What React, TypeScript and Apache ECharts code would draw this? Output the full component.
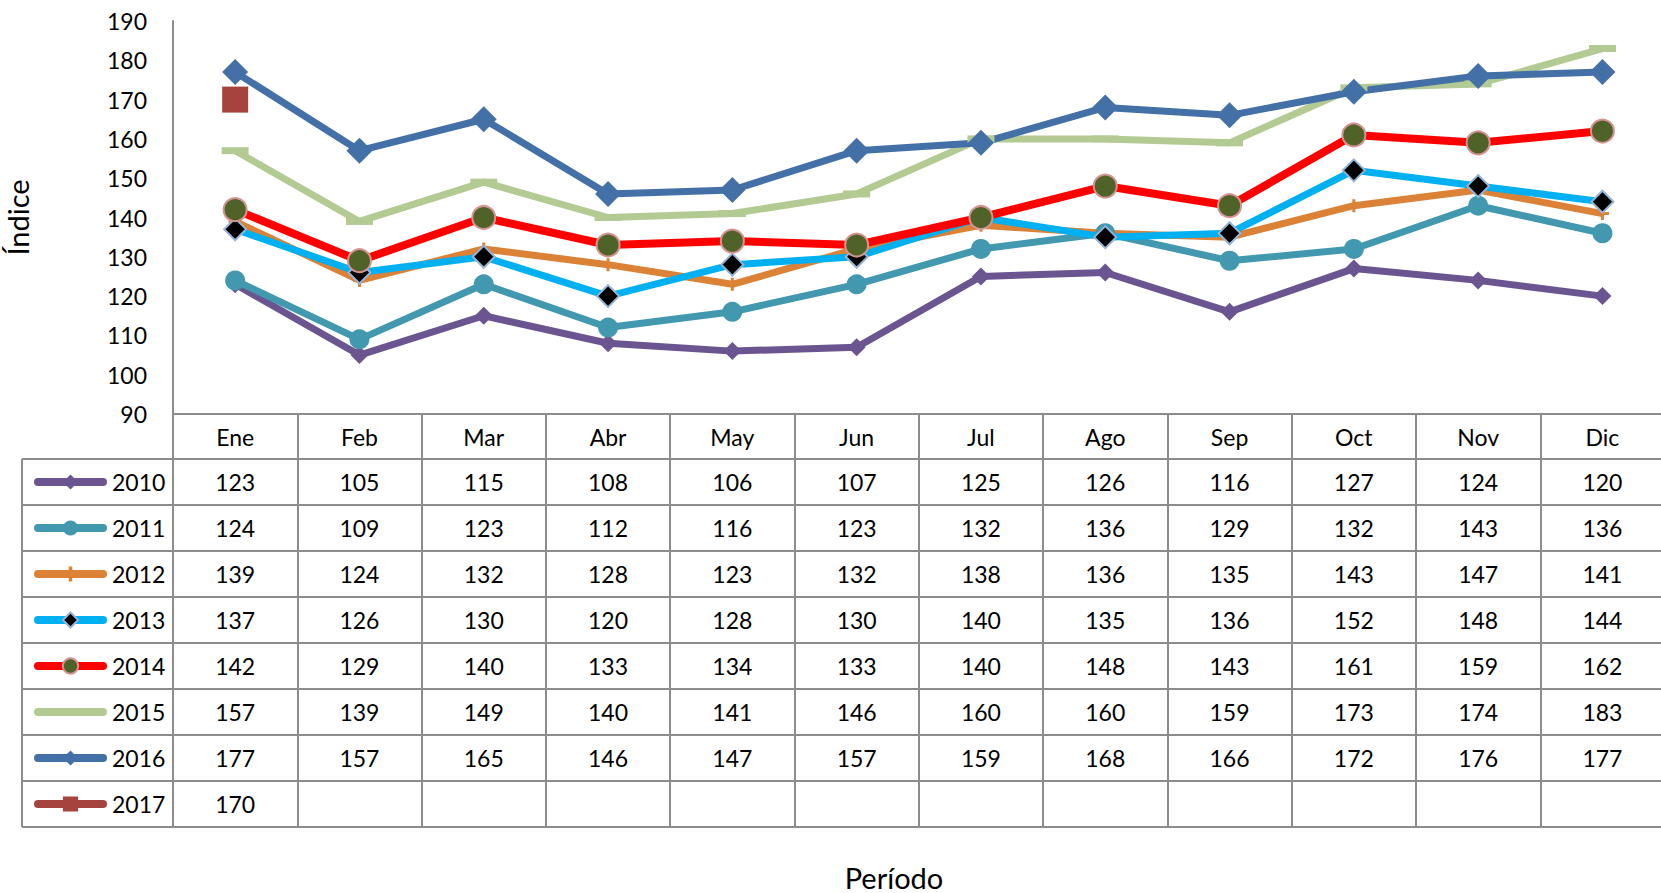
import React, { useEffect, useRef } from 'react';
import * as echarts from 'echarts';

const months = ['Ene', 'Feb', 'Mar', 'Abr', 'May', 'Jun', 'Jul', 'Ago', 'Sep', 'Oct', 'Nov', 'Dic'];
const years = ['2010', '2011', '2012', '2013', '2014', '2015', '2016', '2017'];

const v2010 = [123, 105, 115, 108, 106, 107, 125, 126, 116, 127, 124, 120];
const v2011 = [124, 109, 123, 112, 116, 123, 132, 136, 129, 132, 143, 136];
const v2012 = [139, 124, 132, 128, 123, 132, 138, 136, 135, 143, 147, 141];
const v2013 = [137, 126, 130, 120, 128, 130, 140, 135, 136, 152, 148, 144];
const v2014 = [142, 129, 140, 133, 134, 133, 140, 148, 143, 161, 159, 162];
const v2015 = [157, 139, 149, 140, 141, 146, 160, 160, 159, 173, 174, 183];
const v2016 = [177, 157, 165, 146, 147, 157, 159, 168, 166, 172, 176, 177];
const v2017 = [170, null, null, null, null, null, null, null, null, null, null, null];

const yTicks = { min: 90, max: 190, interval: 10 };

const seriesValues: (number | null)[][] = [v2010, v2011, v2012, v2013, v2014, v2015, v2016, v2017];

const FONT = 'Lato';
const GRID_COLOR = '#8C8C8C';
const PLUS = 'path://M5,0H8V5H13V8H8V13H5V8H0V5H5Z';

const styles: any[] = [
  { symbol: 'diamond', symbolSize: 18, line: '#6B5590', item: { color: '#6B5590' }, width: 7 },
  { symbol: 'circle', symbolSize: 20, line: '#4198AF', item: { color: '#4198AF' }, width: 7 },
  { symbol: PLUS, symbolSize: 13, line: '#DC8237', item: { color: '#DC8237' }, width: 7 },
  { symbol: 'diamond', symbolSize: 22, line: '#00B0F0', item: { color: '#000000', borderColor: '#95B3D7', borderWidth: 2 }, width: 7 },
  { symbol: 'circle', symbolSize: 23, line: '#FF0000', item: { color: '#4F6228', borderColor: '#D49494', borderWidth: 2 }, width: 8 },
  { symbol: 'rect', symbolSize: [27, 7], line: '#B3CB93', item: { color: '#B3CB93' }, width: 7 },
  { symbol: 'diamond', symbolSize: 26, line: '#4470A8', item: { color: '#4470A8' }, width: 7 },
  { symbol: 'rect', symbolSize: 26, line: '#A5443F', item: { color: '#A5443F' }, width: 7 },
];

export default function App() {
  const ref = useRef<HTMLDivElement>(null);
  useEffect(() => {
    const chart = echarts.init(ref.current!, null, { renderer: 'svg' });
    const W = 1661;
    const colW = 124.3;
    const gridLeft = 173;
    const gridTop = 21;
    const plotBottom = 414;
    const headerH = 45;
    const rowH = 46;
    const tableLeft = 22;
    const nRows = years.length;
    const tableBottom = plotBottom + headerH + rowH * nRows;
    const gridRight = W - (gridLeft + 12 * colW);
    const lineStyle = { color: GRID_COLOR, width: 2 };
    const labelBase = { interval: 0, verticalAlign: 'middle', fontFamily: FONT, fontSize: 23, color: '#000', hideOverlap: false };

    const xAxes: any[] = [];
    xAxes.push({
      type: 'category', data: months, position: 'bottom', offset: 0, boundaryGap: true,
      axisLine: { show: true, onZero: false, lineStyle },
      axisTick: { show: true, inside: false, length: headerH, interval: 0, lineStyle },
      axisLabel: { ...labelBase, margin: headerH / 2 },
      splitLine: { show: false },
    });
    seriesValues.forEach((vals, i) => {
      xAxes.push({
        type: 'category', data: months, position: 'bottom', offset: headerH + rowH * i, boundaryGap: true,
        axisLine: { show: true, onZero: false, lineStyle },
        axisTick: { show: true, inside: false, length: rowH, interval: 0, lineStyle },
        axisLabel: { ...labelBase, margin: rowH / 2, formatter: (_v: string, idx: number) => (vals[idx] == null ? '' : String(vals[idx])) },
        splitLine: { show: false },
      });
    });
    xAxes.push({
      type: 'category', data: months, position: 'bottom', offset: headerH + rowH * nRows, boundaryGap: true,
      axisLine: { show: true, onZero: false, lineStyle },
      axisTick: { show: false }, axisLabel: { show: false }, splitLine: { show: false },
    });

    const graphics: any[] = [
      { type: 'line', shape: { x1: tableLeft, y1: plotBottom + headerH, x2: tableLeft, y2: tableBottom }, style: { stroke: GRID_COLOR, lineWidth: 2 } },
    ];
    for (let k = 0; k <= nRows; k++) {
      const y = plotBottom + headerH + rowH * k;
      graphics.push({ type: 'line', shape: { x1: tableLeft, y1: y, x2: gridLeft, y2: y }, style: { stroke: GRID_COLOR, lineWidth: 2 } });
    }
    graphics.push({
      type: 'text', x: 894, y: 877,
      style: { text: 'Período', fontFamily: FONT, fontSize: 29, fill: '#000', textAlign: 'center', textVerticalAlign: 'middle' },
    });

    const option: any = {
      animation: false,
      backgroundColor: '#ffffff',
      grid: { left: gridLeft, top: gridTop, right: gridRight, bottom: 893 - plotBottom, containLabel: false, outerBoundsMode: 'none' },
      xAxis: xAxes,
      yAxis: {
        type: 'value', min: yTicks.min, max: yTicks.max, interval: yTicks.interval,
        name: 'Índice', nameLocation: 'middle', nameGap: 141, nameRotate: 90,
        nameTextStyle: { fontFamily: FONT, fontSize: 29, color: '#000' },
        axisLine: { show: true, lineStyle },
        axisTick: { show: false },
        splitLine: { show: false },
        axisLabel: { fontFamily: FONT, fontSize: 23, color: '#000', margin: 26 },
      },
      legend: {
        orient: 'vertical', left: 34, top: plotBottom + headerH, padding: 0, itemGap: 0,
        itemWidth: 65, itemHeight: 19, selectedMode: false,
        textStyle: { fontFamily: FONT, fontSize: 23, color: '#000', lineHeight: rowH, padding: [0, 0, 0, 4] },
        lineStyle: { width: 8, cap: 'round' },
        data: years.map((y) => (y === '2015' ? { name: y, itemStyle: { opacity: 0 } } : y)),
      },
      graphic: graphics,
      series: years.map((y, i) => ({
        name: y, type: 'line', data: seriesValues[i], xAxisIndex: 0,
        symbol: styles[i].symbol, symbolSize: styles[i].symbolSize,
        showAllSymbol: true,
        lineStyle: { color: styles[i].line, width: styles[i].width },
        itemStyle: styles[i].item,
        color: styles[i].line,
        emphasis: { disabled: true },
      })),
    };
    chart.setOption(option);
    return () => chart.dispose();
  }, []);
  return <div ref={ref} style={{ position: 'absolute', left: 0, top: 0, width: 1661, height: 893 }} />;
}
